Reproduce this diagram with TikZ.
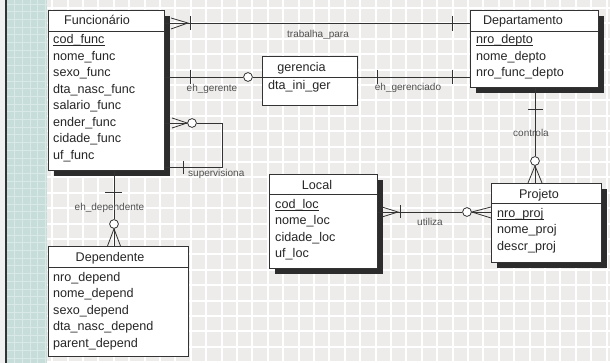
\documentclass[tikz,border=0pt]{standalone}
\usepackage{fontspec}
\setmainfont{Liberation Sans}
\usetikzlibrary{shadows,calc}
\definecolor{bgc}{HTML}{EDECEA}
\definecolor{stripc}{HTML}{C6DDDA}
\definecolor{stripl}{HTML}{D9E9E7}
\definecolor{ink}{HTML}{333333}
\definecolor{lblc}{HTML}{505050}
\definecolor{shad}{HTML}{2C2C2C}
\begin{document}
\begin{tikzpicture}[x=1pt,y=-1pt,
  entity/.style={draw=ink, line width=0.9pt, fill=white, inner sep=0pt, anchor=north west},
  shadowed/.style={drop shadow={shadow xshift=6pt, shadow yshift=-6pt, fill=shad, opacity=1}},
  attr/.style={anchor=base west, inner sep=0pt, text=black!85, font=\fontsize{12.6}{15}\selectfont},
  hdr/.style={anchor=base, inner sep=0pt, text=black!85, font=\fontsize{12.6}{15}\selectfont},
  lbl/.style={anchor=base, inner sep=0pt, text=lblc, font=\fontsize{10}{12}\selectfont},
  conn/.style={draw=ink, line width=0.8pt},
  ring/.style={circle, draw=ink, fill=white, minimum size=8.8pt, inner sep=0pt, line width=0.8pt},
  uline/.style={draw=black!85, line width=0.7pt}]
\useasboundingbox (0,0) rectangle (610,363);
% background
\fill[bgc] (0,0) rectangle (610,363);
\foreach \i in {3,...,39} \draw[white, line width=2pt] ({6+15.4*\i},0) -- ({6+15.4*\i},363);
\foreach \j in {0,...,23} \draw[white, line width=2pt] (47,{8+15.4*\j}) -- (610,{8+15.4*\j});
\fill[stripc] (7,0) rectangle (47,363);
\foreach \i in {1,...,5} \draw[stripl, line width=0.8pt] ({7+7.7*\i},0) -- ({7+7.7*\i},363);
\foreach \j in {0,...,47} \draw[stripl, line width=0.8pt] (7,{4+7.7*\j}) -- (47,{4+7.7*\j});
\fill[black!6] (0,0) rectangle (5,363);
\fill[ink] (5,0) rectangle (7,363);

% entities
\node[entity, shadowed, minimum width=116pt, minimum height=160pt] (func) at (48,10) {};
\draw[conn] (func.north west) ++(0,21) -- ++(116,0);
\node[entity, shadowed, minimum width=128pt, minimum height=77pt] (dep) at (470,10) {};
\draw[conn] (dep.north west) ++(0,21) -- ++(128,0);
\node[entity, minimum width=95pt, minimum height=49pt] (ger) at (262,56) {};
\draw[conn] (ger.north west) ++(0,21) -- ++(95,0);
\node[entity, shadowed, minimum width=108pt, minimum height=94pt] (loc) at (269,174) {};
\draw[conn] (loc.north west) ++(0,20) -- ++(108,0);
\node[entity, shadowed, minimum width=110pt, minimum height=79pt] (proj) at (491,183) {};
\draw[conn] (proj.north west) ++(0,20) -- ++(110,0);
\node[entity, minimum width=140pt, minimum height=110pt] (dept) at (48,246) {};
\draw[conn] (dept.north west) ++(0,21) -- ++(140,0);

% headers
\node[hdr] (funcT) at (97,25) {Funcionário};
\node[hdr] (depT) at (523,25) {Departamento};
\node[hdr] (gerT) at (301.5,71.7) {gerencia};
\node[hdr] (locT) at (317,189.3) {Local};
\node[hdr] (projT) at (539,198.3) {Projeto};
\node[hdr] (deptT) at (110,261.7) {Dependente};

% attributes
\foreach \t [count=\i] in {{cod\_func},{nome\_func},{sexo\_func},{dta\_nasc\_func},{salario\_func},{ender\_func},{cidade\_func},{uf\_func}}
  \node[attr] (fa\i) at (53,{44+16.5*(\i-1)}) {\t};
\foreach \t [count=\i] in {{nro\_depto},{nome\_depto},{nro\_func\_depto}}
  \node[attr] (da\i) at (476,{44+16.5*(\i-1)}) {\t};
\node[attr] (ga1) at (268,90) {dta\_ini\_ger};
\foreach \t [count=\i] in {{cod\_loc},{nome\_loc},{cidade\_loc},{uf\_loc}}
  \node[attr] (la\i) at (275,{208.3+16.5*(\i-1)}) {\t};
\foreach \t [count=\i] in {{nro\_proj},{nome\_proj},{descr\_proj}}
  \node[attr] (pa\i) at (497,{217.3+16.5*(\i-1)}) {\t};
\foreach \t [count=\i] in {{nro\_depend},{nome\_depend},{sexo\_depend},{dta\_nasc\_depend},{parent\_depend}}
  \node[attr] (ea\i) at (53,{281+16.5*(\i-1)}) {\t};
% underlines of keys
\foreach \n in {fa1,da1,la1,pa1}
  \draw[uline] ([yshift=-1.6pt]\n.base west) -- ([yshift=-1.6pt]\n.base east);

% trabalha_para
\coordinate (yTP) at (0,23);
\draw[conn] (func.east |- yTP) -- (dep.west |- yTP);
\draw[conn] (171,18) -- (188,23) -- (171,29);
\draw[conn] (190,16.5) -- (190,30.5);
\draw[conn] (452,16) -- (452,31);
\node[lbl] (lTP) at (318,37.5) {trabalha\_para};

% eh_gerente / eh_gerenciado
\node[ring] (c1) at (248,77) {};
\draw[conn] (func.east |- c1) -- (c1);
\draw[conn] (c1) -- (ger.west |- c1);
\draw[conn] (190,70) -- (190,84);
\node[lbl] (lEG) at (212,92) {eh\_gerente};
\draw[conn] (ger.east |- c1) -- (dep.west |- c1);
\draw[conn] (377,70) -- (377,84);
\draw[conn] (452,70) -- (452,84);
\node[lbl] (lEGD) at (408,91) {eh\_gerenciado};

% supervisiona
\node[ring] (c2) at (192,123) {};
\coordinate (sv1) at (222,123);
\coordinate (sv2) at (222,167);
\draw[conn] (func.east |- c2) -- (c2.west);
\draw[conn] (172,118) -- (c2.west) -- (172,128);
\draw[conn] (c2) -- (sv1) -- (sv2) -- (func.east |- sv2);
\draw[conn] (183,161.5) -- (183,174.5);
\node[lbl, anchor=base west] (lSV) at (188,177) {supervisiona};

% eh_dependente
\node[ring] (c3) at (114,224) {};
\draw[conn] (func.south -| c3) -- (c3);
\draw[conn] (c3) -- (dept.north -| c3);
\draw[conn] (107.5,246) -- (c3.south) -- (120.5,246);
\draw[conn] (105,192) -- (122,192);
\node[lbl] (lED) at (109.5,210.7) {eh\_dependente};

% controla
\node[ring] (c4) at (535,161) {};
\draw[conn] (dep.south -| c4) -- (c4);
\draw[conn] (c4) -- (proj.north -| c4);
\draw[conn] (528,183) -- (c4.south) -- (542,183);
\draw[conn] (528,109) -- (543,109);
\node[lbl] (lCT) at (531,136.7) {controla};

% utiliza
\node[ring] (c5) at (467,212) {};
\draw[conn] (loc.east |- c5) -- (c5);
\draw[conn] (c5) -- (proj.west |- c5);
\draw[conn] (382,207) -- (398,212) -- (382,217);
\draw[conn] (400,205.5) -- (400,218.5);
\draw[conn] (491,207) -- (c5.east) -- (491,218);
\node[lbl] (lUT) at (430,226) {utiliza};
\end{tikzpicture}
\end{document}
